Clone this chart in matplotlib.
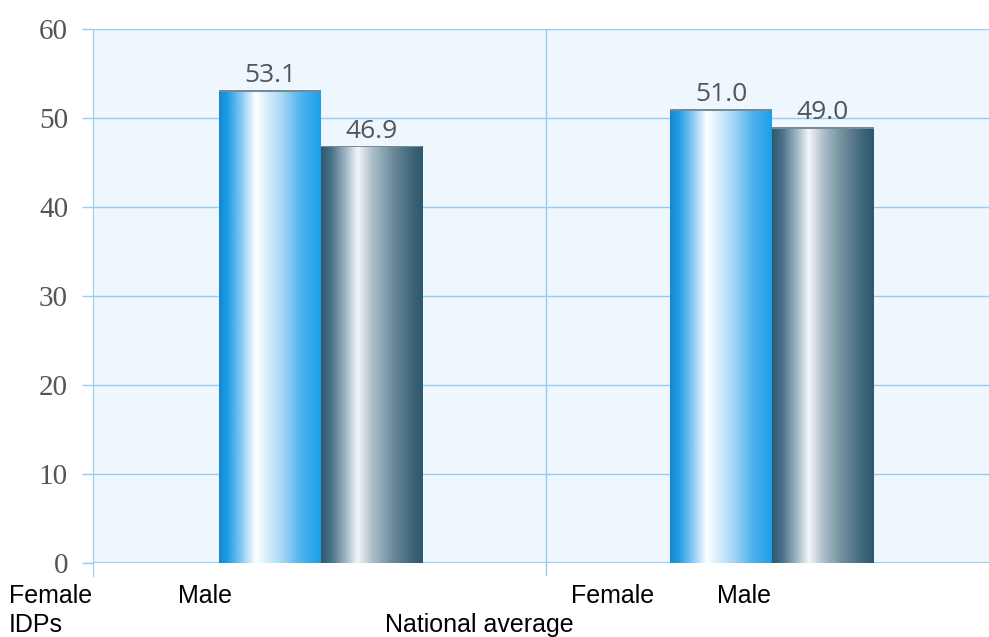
import numpy as np
import matplotlib.pyplot as plt
from matplotlib.colors import LinearSegmentedColormap
from matplotlib.patches import Rectangle

# data
groups = ['IDPs', 'National average']
female = [53.1, 51.0]
male = [46.9, 49.0]
yticks = [0, 10, 20, 30, 40, 50, 60]

grid_col = '#93cdf2'
bg_col = '#eef7fd'

female_cmap = LinearSegmentedColormap.from_list('fem', [
    (0.0, '#1687d0'), (0.08, '#1e9be6'), (0.22, '#86caf3'), (0.36, '#ffffff'),
    (0.48, '#d4ecfb'), (0.62, '#a6d7f5'), (0.80, '#52b4ee'), (1.0, '#1a9fe8')])
male_cmap = LinearSegmentedColormap.from_list('male', [
    (0.0, '#2c586e'), (0.10, '#48718a'), (0.24, '#9fb6c2'), (0.36, '#f2f6f8'),
    (0.50, '#adc0ca'), (0.70, '#6f8c9c'), (0.90, '#3d6479'), (1.0, '#2d586e')])

fig = plt.figure(figsize=(9.89, 6.37), dpi=100)
ax = fig.add_axes([93 / 989, 74 / 637, 896 / 989, 534 / 637])
ax.set_facecolor(bg_col)

x = np.arange(len(groups))
width = 0.225
grad = np.linspace(0, 1, 256).reshape(1, -1)


def gradient_bars(xs, vals, cmap):
    bars = ax.bar(xs, vals, width, color='none', edgecolor='none', zorder=3)
    for b in bars:
        x0, y0 = b.get_x(), b.get_y()
        w, h = b.get_width(), b.get_height()
        im = ax.imshow(grad, cmap=cmap, aspect='auto', extent=(x0, x0 + w, y0, y0 + h),
                       zorder=3, interpolation='bicubic')
        im.set_clip_path(b)
        ax.add_patch(Rectangle((x0, y0 + h - 0.2), w, 0.2, color='#7a8a94', lw=0, zorder=4))
    return bars


fb = gradient_bars(x - width / 2, female, female_cmap)
mb = gradient_bars(x + width / 2, male, male_cmap)

for bars in (fb, mb):
    for b in bars:
        ax.text(b.get_x() + b.get_width() / 2, b.get_height() + 0.9, f'{b.get_height():.1f}',
                ha='center', va='baseline', fontsize=19, color='#555555', family='Open Sans')

ax.set_xlim(-0.505, 1.481)
ax.set_ylim(0, 60)
ax.set_yticks(yticks)
ax.set_yticklabels([str(t) for t in yticks], family='Liberation Serif', fontsize=21, color='#555555')
ax.tick_params(axis='y', length=8, color=grid_col, width=1, pad=10)
ax.set_xticks([])
ax.yaxis.grid(True, color=grid_col, lw=1)
ax.set_axisbelow(True)
for s in ['top', 'right', 'bottom']:
    ax.spines[s].set_visible(False)
ax.spines['left'].set_color(grid_col)
ax.spines['left'].set_bounds(-1.5, 60)
ax.spines['left'].set_clip_on(False)
ax.axhline(0, color=grid_col, lw=1.5, zorder=2)
ax.plot([0.5, 0.5], [-1.3, 60], color=grid_col, lw=1, zorder=1, clip_on=False)

# category labels under the chart
W, H = 989, 637
lab = dict(family='Liberation Sans', fontsize=18, color='black', va='baseline', ha='left')
fig.text(9 / W, 1 - 603 / H, 'Female', **lab)
fig.text(178 / W, 1 - 603 / H, 'Male', **lab)
fig.text(571 / W, 1 - 603 / H, 'Female', **lab)
fig.text(717 / W, 1 - 603 / H, 'Male', **lab)
fig.text(9 / W, 1 - 632 / H, groups[0], **lab)
fig.text(385 / W, 1 - 632 / H, groups[1], **lab)

fig.savefig('out.png', dpi=100)
